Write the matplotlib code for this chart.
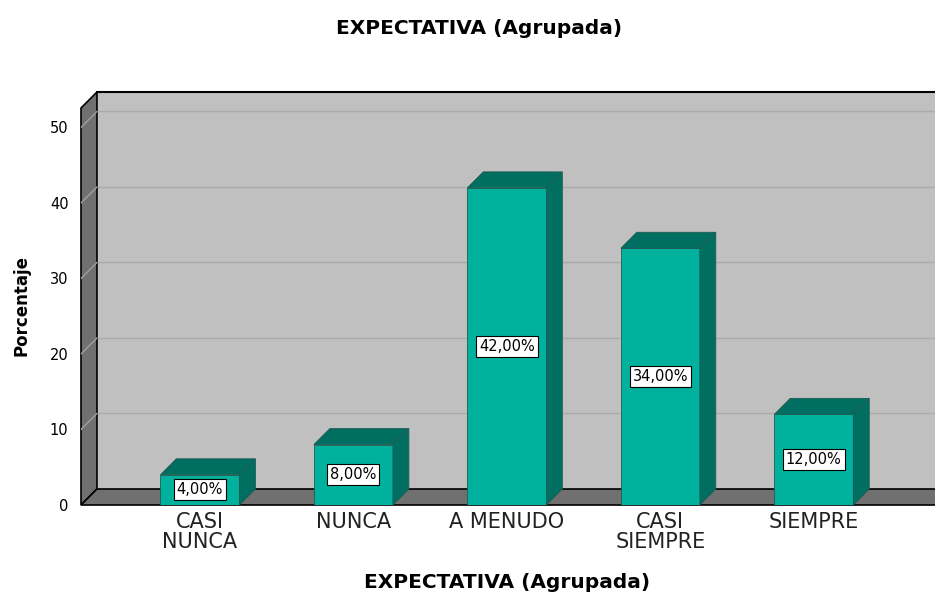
import matplotlib.pyplot as plt
from matplotlib.patches import Polygon

# data
categorias = ["CASI\nNUNCA", "NUNCA", "A MENUDO", "CASI\nSIEMPRE", "SIEMPRE"]
porcentajes = [4, 8, 42, 34, 12]
etiquetas = ["4,00%", "8,00%", "42,00%", "34,00%", "12,00%"]
yticks = [0, 10, 20, 30, 40, 50]

# pseudo-3D geometry (data units)
DX = 0.104      # depth offset in category units
DY = 2.12       # depth offset in percent units
W = 0.515       # bar width
X0, X1 = -0.775, 4.79
Y1 = 54.7

FRONT = "#00B29E"
DARK = "#006E61"
WALL = "#C0C0C0"
SIDE = "#707070"

fig = plt.figure(figsize=(9.35, 5.94), dpi=100)
ax = fig.add_axes([81 / 935, (594 - 505) / 594, (935 - 81) / 935, (505 - 92) / 594])
ax.set_xlim(X0, X1)
ax.set_ylim(0, Y1)
for s in ax.spines.values():
    s.set_visible(False)

# walls and floor
ax.add_patch(Polygon([(X0 + DX, DY), (X1 + 1, DY), (X1 + 1, Y1), (X0 + DX, Y1)],
                     closed=True, fc=WALL, ec="none", zorder=0))
ax.add_patch(Polygon([(X0, 0), (X0 + DX, DY), (X0 + DX, Y1), (X0, Y1 - DY)],
                     closed=True, fc=SIDE, ec="black", lw=1.2, zorder=1, clip_on=False))
ax.add_patch(Polygon([(X0, 0), (X1 + 1, 0), (X1 + 1, DY), (X0 + DX, DY)],
                     closed=True, fc=SIDE, ec="black", lw=1.2, zorder=1, clip_on=False))
ax.plot([X0 + DX, X1 + 1], [Y1, Y1], color="black", lw=1.5, zorder=1, clip_on=False)

# gridlines on back wall and left wall
for t in yticks[1:]:
    ax.plot([X0 + DX, X1 + 1], [t + DY, t + DY], color="#ABABAB", lw=1, zorder=0.5)
    ax.plot([X0, X0 + DX], [t, t + DY], color="#A0A0A0", lw=1, zorder=1.5)

# bars
for i, v in enumerate(porcentajes):
    l, r = i - W / 2, i + W / 2
    ax.bar(i, v, width=W, color=FRONT, edgecolor="#1F5C53", lw=0.6, zorder=3)
    ax.add_patch(Polygon([(l, v), (r, v), (r + DX, v + DY), (l + DX, v + DY)],
                         closed=True, fc=DARK, ec="#1F5C53", lw=0.6, zorder=3))
    ax.add_patch(Polygon([(r, 0), (r + DX, DY), (r + DX, v + DY), (r, v)],
                         closed=True, fc=DARK, ec="#1F5C53", lw=0.6, zorder=3))
    ax.text(i, v / 2, etiquetas[i], ha="center", va="center", fontsize=10.5, zorder=4,
            bbox=dict(boxstyle="square,pad=0.2", fc="white", ec="black", lw=0.8))

ax.set_yticks(yticks)
ax.set_yticklabels([str(t) for t in yticks], fontsize=10.5)
ax.set_xticks(range(len(categorias)))
ax.set_xticklabels(categorias, fontsize=15, linespacing=1.0, color="#222222")
ax.tick_params(axis="y", length=0, pad=9)
ax.tick_params(axis="x", length=0, pad=5)

fig.text(22 / 935, 1 - 306 / 594, "Porcentaje", rotation=90, ha="center", va="center",
         fontsize=12, fontweight="bold")
fig.text(479 / 935, 1 - 28 / 594, "EXPECTATIVA (Agrupada)", ha="center", va="center",
         fontsize=14.5, fontweight="bold")
fig.text(507 / 935, 1 - 582 / 594, "EXPECTATIVA (Agrupada)", ha="center", va="center",
         fontsize=14.5, fontweight="bold")

fig.savefig("out.png", dpi=100)
